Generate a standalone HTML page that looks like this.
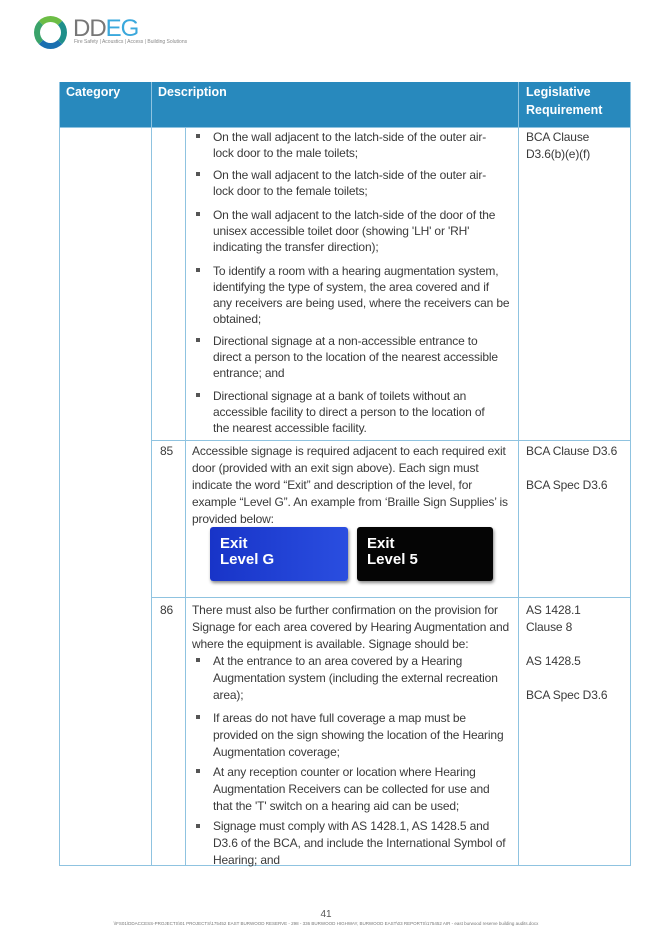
<!DOCTYPE html>
<html><head><meta charset="utf-8"><style>
body{margin:0;width:652px;height:945px;background:#fff;position:relative;font-family:"Liberation Sans",sans-serif;overflow:hidden}
.t{position:absolute;font-size:12px;letter-spacing:-0.15px;color:#3a3a3a;white-space:nowrap;line-height:16px}
.b{position:absolute;width:4px;height:4px;background:#555}
.h{position:absolute;color:#fff;font-weight:bold;font-size:12.5px;line-height:18px}
.l{position:absolute;background:#8fc3e0}
</style></head><body>
<!-- logo -->
<div style="position:absolute;left:34px;top:16px;border-radius:50%;border:6px solid #1f8f8a;border-top-color:#6cbd45;border-left-color:#3aa36a;border-bottom-color:#1a6fb0;box-sizing:border-box;width:33px;height:33px"></div>
<div style="position:absolute;left:73px;top:15px;font-size:24px;color:#777;letter-spacing:-1px">DD<span style="color:#3aa8dc">EG</span></div>
<div style="position:absolute;left:74px;top:39px;font-size:5px;color:#888">Fire Safety | Acoustics | Access | Building Solutions</div>
<!-- header -->
<div style="position:absolute;left:59px;top:82px;width:572px;height:45px;background:#2889bd"></div>
<div class="h" style="left:66px;top:83px">Category</div>
<div class="h" style="left:158px;top:83px">Description</div>
<div class="h" style="left:526px;top:83px">Legislative<br>Requirement</div>
<!-- grid lines -->
<div class="l" style="left:59px;top:82px;width:1px;height:783px"></div>
<div class="l" style="left:630px;top:82px;width:1px;height:783px"></div>
<div class="l" style="left:151px;top:82px;width:1px;height:783px"></div>
<div class="l" style="left:518px;top:82px;width:1px;height:783px"></div>
<div class="l" style="left:185px;top:127px;width:1px;height:738px"></div>
<div class="l" style="left:59px;top:127px;width:572px;height:1px"></div>
<div class="l" style="left:151px;top:440px;width:480px;height:1px"></div>
<div class="l" style="left:151px;top:597px;width:480px;height:1px"></div>
<div class="l" style="left:59px;top:865px;width:572px;height:1px"></div>
<!-- row1 -->
<div class="b" style="left:196px;top:134px"></div>
<div class="t" style="left:213px;top:129px">On the wall adjacent to the latch-side of the outer air-<br>lock door to the male toilets;</div>
<div class="b" style="left:196px;top:172px"></div>
<div class="t" style="left:213px;top:167px">On the wall adjacent to the latch-side of the outer air-<br>lock door to the female toilets;</div>
<div class="b" style="left:196px;top:212px"></div>
<div class="t" style="left:213px;top:207px">On the wall adjacent to the latch-side of the door of the<br>unisex accessible toilet door (showing 'LH' or 'RH'<br>indicating the transfer direction);</div>
<div class="b" style="left:196px;top:268px"></div>
<div class="t" style="left:213px;top:263px">To identify a room with a hearing augmentation system,<br>identifying the type of system, the area covered and if<br>any receivers are being used, where the receivers can be<br>obtained;</div>
<div class="b" style="left:196px;top:338px"></div>
<div class="t" style="left:213px;top:333px">Directional signage at a non-accessible entrance to<br>direct a person to the location of the nearest accessible<br>entrance; and</div>
<div class="b" style="left:196px;top:393px"></div>
<div class="t" style="left:213px;top:388px">Directional signage at a bank of toilets without an<br>accessible facility to direct a person to the location of<br>the nearest accessible facility.</div>
<div class="t" style="left:526px;top:129px;line-height:17px">BCA Clause<br>D3.6(b)(e)(f)</div>
<!-- row85 -->
<div class="t" style="left:160px;top:443px">85</div>
<div class="t" style="left:192px;top:443px;line-height:17px">Accessible signage is required adjacent to each required exit<br>door (provided with an exit sign above). Each sign must<br>indicate the word “Exit” and description of the level, for<br>example “Level G”. An example from ‘Braille Sign Supplies’ is<br>provided below:</div>
<div class="t" style="left:526px;top:443px">BCA Clause D3.6</div>
<div class="t" style="left:526px;top:477px">BCA Spec D3.6</div>
<div style="position:absolute;left:210px;top:527px;width:138px;height:54px;background:linear-gradient(90deg,#1834c8,#2a4ee0);border-radius:3px;box-shadow:1px 2px 3px #888"></div>
<div style="position:absolute;left:220px;top:536px;color:#fff;font-weight:bold;font-size:15px;line-height:16px">Exit<br>Level G</div>
<div style="position:absolute;left:357px;top:527px;width:136px;height:54px;background:#050505;border-radius:3px;box-shadow:1px 2px 3px #888"></div>
<div style="position:absolute;left:367px;top:536px;color:#fff;font-weight:bold;font-size:15px;line-height:16px">Exit<br>Level 5</div>
<!-- row86 -->
<div class="t" style="left:160px;top:602px">86</div>
<div class="t" style="left:192px;top:602px;line-height:17px">There must also be further confirmation on the provision for<br>Signage for each area covered by Hearing Augmentation and<br>where the equipment is available. Signage should be:</div>
<div class="b" style="left:196px;top:658px"></div>
<div class="t" style="left:213px;top:653px;line-height:17px">At the entrance to an area covered by a Hearing<br>Augmentation system (including the external recreation<br>area);</div>
<div class="b" style="left:196px;top:715px"></div>
<div class="t" style="left:213px;top:710px;line-height:17px">If areas do not have full coverage a map must be<br>provided on the sign showing the location of the Hearing<br>Augmentation coverage;</div>
<div class="b" style="left:196px;top:769px"></div>
<div class="t" style="left:213px;top:764px;line-height:17px">At any reception counter or location where Hearing<br>Augmentation Receivers can be collected for use and<br>that the 'T' switch on a hearing aid can be used;</div>
<div class="b" style="left:196px;top:824px"></div>
<div class="t" style="left:213px;top:818px;line-height:17px">Signage must comply with AS 1428.1, AS 1428.5 and<br>D3.6 of the BCA, and include the International Symbol of<br>Hearing; and</div>
<div class="t" style="left:526px;top:602px;line-height:17px">AS 1428.1<br>Clause 8</div>
<div class="t" style="left:526px;top:653px">AS 1428.5</div>
<div class="t" style="left:526px;top:687px">BCA Spec D3.6</div>
<!-- footer -->
<div style="position:absolute;left:0;width:652px;top:909px;text-align:center;font-size:10px;color:#555">41</div>
<div style="position:absolute;left:0;width:652px;top:921px;text-align:center;font-size:4.5px;color:#777;white-space:nowrap">\\FS01\DDACCESS-PROJECTS\01 PROJECTS\175452 EAST BURWOOD RESERVE - 298 - 336 BURWOOD HIGHWAY, BURWOOD EAST\03 REPORTS\175452 AIR - east burwood reserve building audits.docx</div>
</body></html>
